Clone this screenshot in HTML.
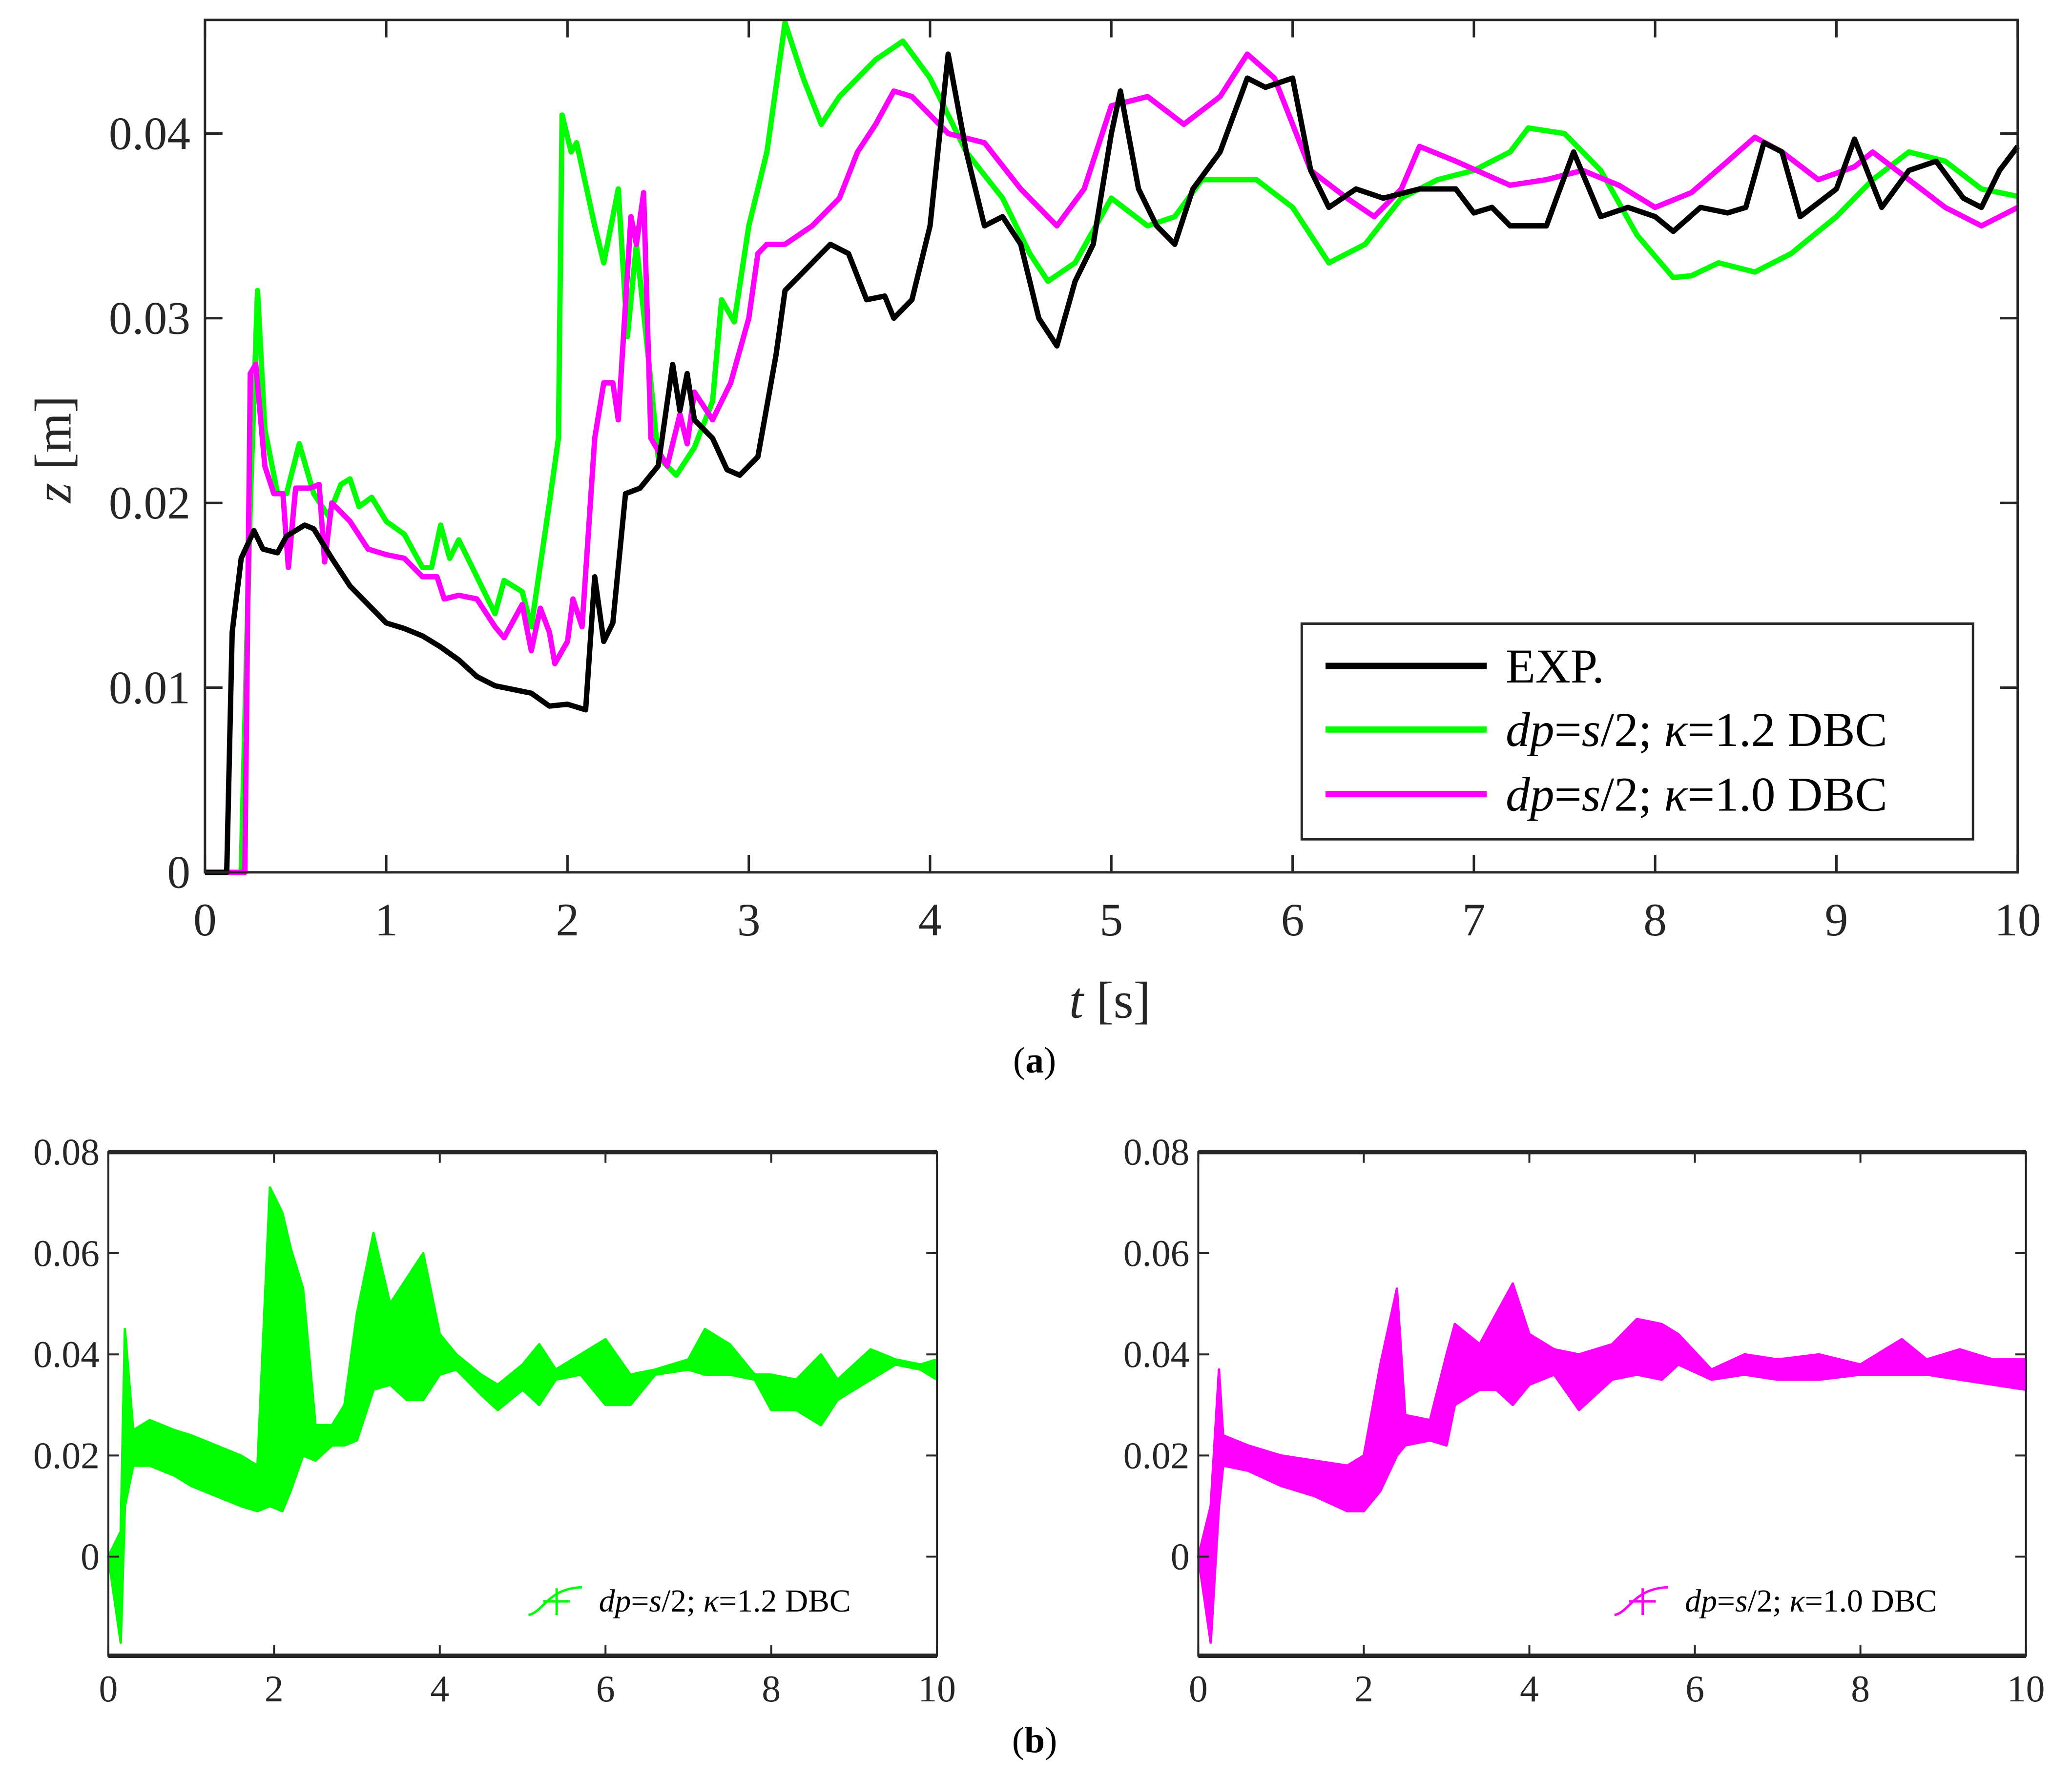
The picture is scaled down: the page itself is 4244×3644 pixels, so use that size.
<!DOCTYPE html>
<html><head><meta charset="utf-8"><style>
html,body{margin:0;padding:0;background:#fff;}
svg{display:block;}
svg text{font-family:"Liberation Serif","DejaVu Serif",serif;}
</style></head><body>
<svg id="fig" width="4244" height="3644" viewBox="0 0 4244 3644" font-family="Liberation Serif, serif" xmlns="http://www.w3.org/2000/svg"><g id="root" transform="scale(0.99489)"></g></svg>
<script>
// ---------- Panel (a) data ----------
const expT=[0,0.12,0.15,0.2,0.27,0.32,0.4,0.45,0.55,0.6,0.7,0.8,0.9,1.0,1.1,1.2,1.3,1.4,1.5,1.6,1.7,1.8,1.9,2.0,2.1,2.15,2.2,2.25,2.32,2.4,2.5,2.58,2.62,2.66,2.7,2.8,2.88,2.95,3.05,3.15,3.2,3.3,3.45,3.55,3.65,3.75,3.8,3.9,4.0,4.1,4.2,4.3,4.4,4.5,4.6,4.7,4.8,4.9,5.0,5.05,5.15,5.25,5.35,5.45,5.6,5.75,5.85,6.0,6.1,6.2,6.35,6.5,6.7,6.9,7.0,7.1,7.2,7.4,7.55,7.7,7.85,8.0,8.1,8.25,8.4,8.5,8.6,8.7,8.8,9.0,9.1,9.25,9.4,9.55,9.7,9.8,9.9,10];
const expZ=[0,0,0.013,0.017,0.0185,0.0175,0.0173,0.0182,0.0188,0.0186,0.017,0.0155,0.0145,0.0135,0.0132,0.0128,0.0122,0.0115,0.0106,0.0101,0.0099,0.0097,0.009,0.0091,0.0088,0.016,0.0125,0.0135,0.0205,0.0208,0.022,0.0275,0.025,0.027,0.0245,0.0235,0.0218,0.0215,0.0225,0.028,0.0315,0.0325,0.034,0.0335,0.031,0.0312,0.030,0.031,0.035,0.0443,0.039,0.035,0.0355,0.034,0.030,0.0285,0.032,0.034,0.040,0.0423,0.037,0.035,0.034,0.037,0.039,0.043,0.0425,0.043,0.038,0.036,0.037,0.0365,0.037,0.037,0.0357,0.036,0.035,0.035,0.039,0.0355,0.036,0.0355,0.0347,0.036,0.0357,0.036,0.0395,0.039,0.0355,0.037,0.0397,0.036,0.038,0.0385,0.0365,0.036,0.038,0.0393];
const g12T=[0,0.2,0.25,0.29,0.33,0.4,0.45,0.52,0.6,0.68,0.75,0.8,0.85,0.92,1.0,1.1,1.2,1.25,1.3,1.35,1.4,1.5,1.6,1.65,1.75,1.8,1.9,1.95,1.97,2.02,2.05,2.15,2.2,2.28,2.33,2.38,2.45,2.5,2.6,2.7,2.8,2.85,2.92,3.0,3.1,3.2,3.3,3.4,3.5,3.7,3.85,4.0,4.2,4.4,4.55,4.65,4.8,5.0,5.2,5.35,5.5,5.8,6.0,6.2,6.4,6.6,6.8,7.0,7.2,7.3,7.5,7.7,7.9,8.1,8.2,8.35,8.55,8.75,9.0,9.2,9.4,9.6,9.8,10];
const g12Z=[0,0,0.02,0.0315,0.024,0.0205,0.0205,0.0232,0.0205,0.0193,0.021,0.0213,0.0198,0.0203,0.019,0.0183,0.0165,0.0165,0.0188,0.017,0.018,0.016,0.014,0.0158,0.0152,0.0133,0.02,0.0235,0.041,0.039,0.0395,0.035,0.033,0.037,0.029,0.034,0.0275,0.0225,0.0215,0.023,0.0255,0.031,0.0298,0.035,0.039,0.046,0.043,0.0405,0.042,0.044,0.045,0.043,0.039,0.0365,0.0335,0.032,0.033,0.0365,0.035,0.0355,0.0375,0.0375,0.036,0.033,0.034,0.0365,0.0375,0.038,0.039,0.0403,0.040,0.038,0.0345,0.0322,0.0323,0.033,0.0325,0.0335,0.0355,0.0375,0.039,0.0385,0.037,0.0366];
const m10T=[0,0.22,0.25,0.28,0.33,0.38,0.43,0.46,0.5,0.58,0.63,0.66,0.7,0.8,0.9,1.0,1.1,1.2,1.28,1.32,1.4,1.5,1.6,1.65,1.75,1.8,1.85,1.9,1.93,2.0,2.03,2.08,2.15,2.2,2.25,2.28,2.35,2.38,2.42,2.46,2.55,2.62,2.66,2.7,2.8,2.9,3.0,3.05,3.1,3.2,3.35,3.5,3.6,3.7,3.8,3.9,4.0,4.1,4.3,4.5,4.7,4.85,5.0,5.2,5.4,5.6,5.75,5.9,6.1,6.3,6.45,6.6,6.7,6.9,7.2,7.4,7.6,7.8,8.0,8.2,8.4,8.55,8.7,8.9,9.1,9.2,9.4,9.6,9.8,10];
const m10Z=[0,0,0.027,0.0275,0.022,0.0205,0.0205,0.0165,0.0208,0.0208,0.021,0.0168,0.02,0.019,0.0175,0.0172,0.017,0.016,0.016,0.0148,0.015,0.0148,0.0133,0.0127,0.0145,0.012,0.0143,0.013,0.0113,0.0125,0.0148,0.0133,0.0235,0.0265,0.0265,0.0245,0.0355,0.034,0.0368,0.0235,0.022,0.0248,0.0232,0.026,0.0245,0.0265,0.030,0.0335,0.034,0.034,0.035,0.0365,0.039,0.0405,0.0423,0.042,0.041,0.040,0.0395,0.037,0.035,0.037,0.0415,0.042,0.0405,0.042,0.0443,0.043,0.038,0.0365,0.0355,0.037,0.0393,0.0385,0.0372,0.0375,0.038,0.0372,0.036,0.0368,0.0385,0.0398,0.039,0.0375,0.0382,0.039,0.0375,0.036,0.035,0.036];
const aXTicks=[0,1,2,3,4,5,6,7,8,9,10];
const aYTicks=[0,0.01,0.02,0.03,0.04];
const aYLabels=["0","0.01","0.02","0.03","0.04"];
// ---------- Panel (b) data (envelopes) ----------
const bgT=[0,0.15,0.2,0.3,0.5,0.8,1.0,1.3,1.6,1.8,1.95,2.1,2.2,2.35,2.5,2.7,2.85,3.0,3.2,3.4,3.6,3.8,4.0,4.2,4.5,4.7,5.0,5.2,5.4,5.7,6.0,6.3,6.6,7.0,7.2,7.5,7.8,8.0,8.3,8.6,8.8,9.2,9.5,9.8,10];
const bgLo=[0,-0.017,0.01,0.018,0.018,0.016,0.014,0.012,0.010,0.009,0.010,0.009,0.013,0.020,0.019,0.022,0.022,0.023,0.033,0.034,0.031,0.031,0.036,0.037,0.032,0.029,0.033,0.030,0.035,0.036,0.030,0.030,0.036,0.037,0.036,0.036,0.035,0.029,0.029,0.026,0.031,0.035,0.038,0.037,0.035];
const bgHi=[0,0.005,0.045,0.025,0.027,0.025,0.024,0.022,0.020,0.018,0.073,0.068,0.061,0.053,0.026,0.026,0.030,0.048,0.064,0.050,0.055,0.060,0.044,0.040,0.036,0.034,0.038,0.042,0.037,0.040,0.043,0.036,0.037,0.039,0.045,0.042,0.036,0.036,0.035,0.040,0.035,0.041,0.039,0.038,0.039];
const bmT=[0,0.15,0.25,0.3,0.6,1.0,1.4,1.8,2.0,2.2,2.4,2.5,2.8,3.0,3.1,3.4,3.6,3.8,4.0,4.3,4.6,5.0,5.3,5.6,5.8,6.2,6.6,7.0,7.5,8.0,8.5,8.8,9.2,9.6,10];
const bmLo=[0,-0.017,0.01,0.018,0.017,0.014,0.012,0.009,0.009,0.013,0.020,0.022,0.023,0.022,0.030,0.033,0.033,0.030,0.034,0.036,0.029,0.035,0.036,0.035,0.038,0.035,0.036,0.035,0.035,0.036,0.036,0.036,0.035,0.034,0.033];
const bmHi=[0,0.01,0.037,0.024,0.022,0.020,0.019,0.018,0.020,0.038,0.053,0.028,0.027,0.040,0.046,0.042,0.048,0.054,0.044,0.041,0.040,0.042,0.047,0.046,0.044,0.037,0.040,0.039,0.040,0.038,0.043,0.039,0.041,0.039,0.039];
const bXTicks=[0,2,4,6,8,10];
const bYTicks=[0,0.02,0.04,0.06,0.08];
const bYLabels=["0","0.02","0.04","0.06","0.08"];

const svg=document.getElementById('root');
const NS="http://www.w3.org/2000/svg";
const FF='"Liberation Serif", "DejaVu Serif", serif';
function mk(tag,attrs,parent){const e=document.createElementNS(NS,tag);for(const k in attrs)e.setAttribute(k,attrs[k]);if(tag==='text')e.setAttribute('font-family',FF);(parent||svg).appendChild(e);return e;}

// ---------- Panel (a) ----------
const A={x0:422,x1:4154,y0:41,y1:1796,xmin:0,xmax:10,ymin:0,ymax:0.04615};
const ax=t=>A.x0+(t-A.xmin)/(A.xmax-A.xmin)*(A.x1-A.x0);
const ay=z=>A.y1-(z-A.ymin)/(A.ymax-A.ymin)*(A.y1-A.y0);
const ga=mk('g',{});


function line(T,Z,color,name){
  const p=mk('polyline',{points:T.map((t,i)=>ax(t).toFixed(1)+','+ay(Z[i]).toFixed(1)).join(' '),fill:'none',stroke:color,'stroke-width':11,'stroke-linejoin':'round'},ga);
  
  
}
line(g12T,g12Z,'#00ff00','series-kappa-1-2');
line(m10T,m10Z,'#ff00ff','series-kappa-1-0');
line(expT,expZ,'#000000','series-exp');
aXTicks.forEach(t=>{
  const x=ax(t);
  mk('line',{x1:x,y1:A.y1,x2:x,y2:A.y1-36,stroke:'#262626','stroke-width':5},ga);
  mk('line',{x1:x,y1:A.y0,x2:x,y2:A.y0+36,stroke:'#262626','stroke-width':5},ga);
  const tx=mk('text',{x:x,y:1926,'text-anchor':'middle','font-size':96,fill:'#262626'},ga);
  tx.textContent=t;
  
  
});
aYTicks.forEach((v,i)=>{
  const y=ay(v);
  mk('line',{x1:A.x0,y1:y,x2:A.x0+36,y2:y,stroke:'#262626','stroke-width':5},ga);
  mk('line',{x1:A.x1,y1:y,x2:A.x1-36,y2:y,stroke:'#262626','stroke-width':5},ga);
  const tx=mk('text',{x:392,y:y+32,'text-anchor':'end','font-size':96,fill:'#262626'},ga);
  tx.textContent=aYLabels[i];
  
  
});
const fa=mk('rect',{x:A.x0,y:A.y0,width:A.x1-A.x0,height:A.y1-A.y0,fill:'none',stroke:'#262626','stroke-width':5},ga);


const xt=mk('text',{x:2285,y:2095,'text-anchor':'middle','font-size':106,fill:'#262626'},ga);
xt.innerHTML='<tspan font-style="italic">t</tspan> [s]';


const yt=mk('text',{x:0,y:0,'text-anchor':'middle','font-size':106,fill:'#262626',transform:'translate(145,925) rotate(-90)'},ga);
yt.innerHTML='<tspan font-style="italic">z</tspan> [m]';


const lg=mk('g',{},ga);


mk('rect',{x:2680,y:1284,width:1382,height:444,fill:'#fff',stroke:'#262626','stroke-width':5},lg);
const leg=[['#000','EXP.',1371],['#00ff00','κ=1.2 DBC',1502],['#ff00ff','κ=1.0 DBC',1635]];
leg.forEach((l,i)=>{
  mk('line',{x1:2729,y1:l[2],x2:3061,y2:l[2],stroke:l[0],'stroke-width':13},lg);
  const t=mk('text',{x:3100,y:l[2]+34,'font-size':100,fill:'#000'},lg);
  if(i===0)t.textContent='EXP.';
  else t.innerHTML='<tspan font-style="italic">dp</tspan>=<tspan font-style="italic">s</tspan>/2;  <tspan font-style="italic">κ</tspan>='+(i===1?'1.2':'1.0')+' DBC';
  
  
});
const ca=mk('text',{x:2130,y:2208,'text-anchor':'middle','font-size':76,fill:'#000'});
ca.innerHTML='(<tspan font-weight="bold">a</tspan>)';



// ---------- Panel (b) ----------
function panelB(x0,x1,T,Lo,Hi,color,name,kappa,legX){
  const y0=2372,y1=3409,ymin=-0.0196,ymax=0.08;
  const bx=t=>x0+t/10*(x1-x0);
  const by=z=>y1-(z-ymin)/(ymax-ymin)*(y1-y0);
  const g=mk('g',{});
  
  
  const pts=T.map((t,i)=>bx(t).toFixed(1)+','+by(Hi[i]).toFixed(1)).concat(T.map((t,i)=>bx(t).toFixed(1)+','+by(Lo[i]).toFixed(1)).reverse());
  const p=mk('polygon',{points:pts.join(' '),fill:color,stroke:color,'stroke-width':5,'stroke-linejoin':'round'},g);
  
  
  bXTicks.forEach(t=>{
    const x=bx(t);
    mk('line',{x1:x,y1:y1,x2:x,y2:y1-22,stroke:'#262626','stroke-width':4},g);
    mk('line',{x1:x,y1:y0,x2:x,y2:y0+22,stroke:'#262626','stroke-width':4},g);
    const tx=mk('text',{x:x,y:3503,'text-anchor':'middle','font-size':78,fill:'#262626'},g);
    tx.textContent=t;
    
    
  });
  bYTicks.forEach((v,i)=>{
    const y=by(v);
    mk('line',{x1:x0,y1:y,x2:x0+22,y2:y,stroke:'#262626','stroke-width':4},g);
    mk('line',{x1:x1,y1:y,x2:x1-22,y2:y,stroke:'#262626','stroke-width':4},g);
    const tx=mk('text',{x:x0-18,y:y+26,'text-anchor':'end','font-size':78,fill:'#262626'},g);
    tx.textContent=bYLabels[i];
    
    
  });
  mk('rect',{x:x0,y:y0,width:x1-x0,height:y1-y0,fill:'none',stroke:'#262626','stroke-width':4},g);
  mk('line',{x1:x0,y1:y0,x2:x1,y2:y0,stroke:'#262626','stroke-width':9},g);
  mk('line',{x1:x0,y1:y1,x2:x1,y2:y1,stroke:'#262626','stroke-width':9},g);
  const lx=legX;
  mk('path',{d:`M${lx} 3325 C ${lx+30} 3320 ${lx+40} 3270 ${lx+110} 3268`,fill:'none',stroke:color,'stroke-width':5},g);
  mk('line',{x1:lx+30,y1:3297,x2:lx+85,y2:3297,stroke:color,'stroke-width':5},g);
  mk('line',{x1:lx+58,y1:3270,x2:lx+58,y2:3325,stroke:color,'stroke-width':5},g);
  const t=mk('text',{x:lx+145,y:3318,'font-size':66,fill:'#000'},g);
  t.innerHTML='<tspan font-style="italic">dp</tspan>=<tspan font-style="italic">s</tspan>/2;  <tspan font-style="italic">κ</tspan>='+kappa+' DBC';
  
  
}
panelB(223,1929,bgT,bgLo,bgHi,'#00ff00','panel-b-left','1.2',1088);
panelB(2467,4171,bmT,bmLo,bmHi,'#ff00ff','panel-b-right','1.0',3324);
const cb=mk('text',{x:2130,y:3608,'text-anchor':'middle','font-size':76,fill:'#000'});
cb.innerHTML='(<tspan font-weight="bold">b</tspan>)';


</script>
</body></html>
